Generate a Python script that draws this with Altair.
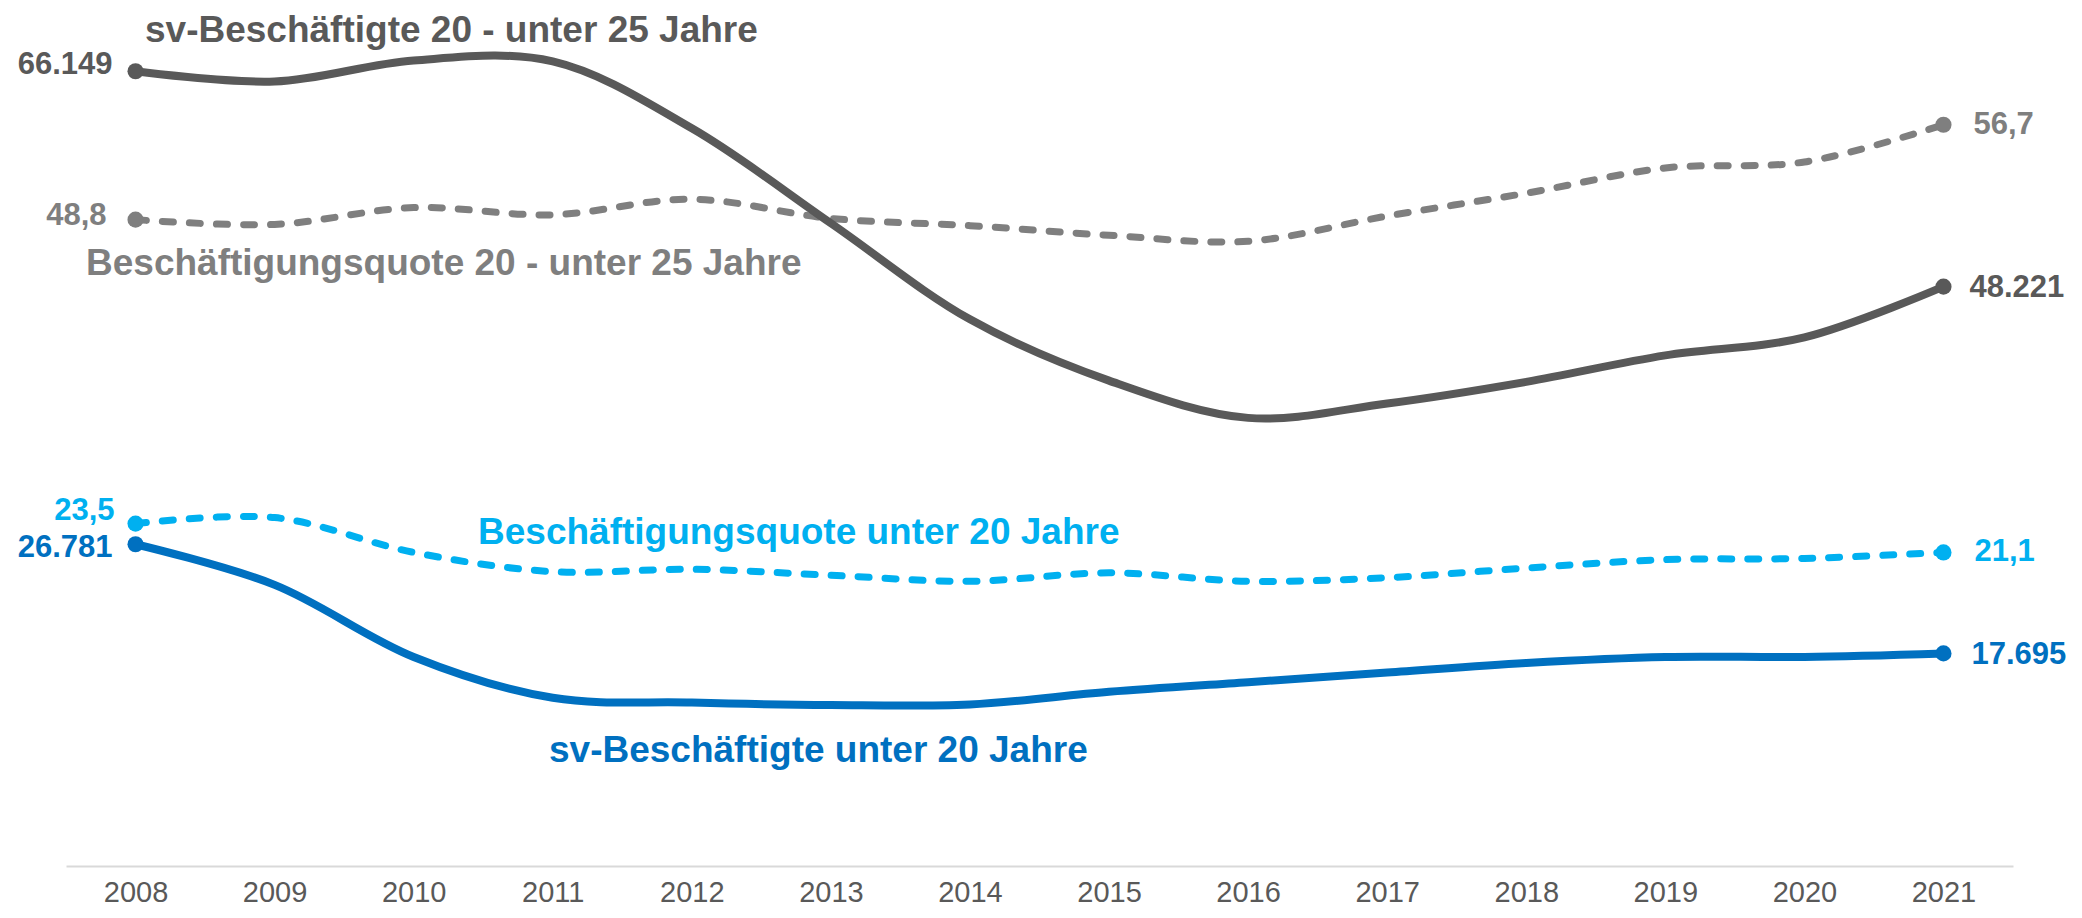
import altair as alt
import pandas as pd

# ---------------- data ----------------
years = list(range(2008, 2022))
sv_20_25 = [66149, 65300, 67050, 66970, 61400, 53500, 45500, 40400, 37300, 38500, 40300, 42500, 44000, 48221]
quote_20_25 = [48.8, 48.4, 49.8, 49.2, 50.5, 48.9, 48.3, 47.5, 47.0, 49.1, 51.0, 53.1, 53.6, 56.7]
quote_u20 = [23.5, 24.0, 21.1, 19.5, 19.7, 19.2, 18.7, 19.4, 18.7, 19.0, 19.8, 20.5, 20.6, 21.1]
sv_u20 = [26781, 23400, 17400, 14000, 13600, 13400, 13450, 14500, 15300, 16100, 16900, 17400, 17400, 17695]

series_names = {
    "sv_20_25": "sv-Beschäftigte 20 - unter 25 Jahre",
    "quote_20_25": "Beschäftigungsquote 20 - unter 25 Jahre",
    "quote_u20": "Beschäftigungsquote unter 20 Jahre",
    "sv_u20": "sv-Beschäftigte unter 20 Jahre",
}

df = pd.DataFrame({
    "year": years,
    "sv_20_25": sv_20_25,
    "quote_20_25": quote_20_25,
    "quote_u20": quote_u20,
    "sv_u20": sv_u20,
})

FONT = "Liberation Sans"
C_DG = "#595959"
C_G = "#7F7F7F"
C_LB = "#00B0F0"
C_B = "#0070C0"


def fmt_count(v):
    return f"{int(v):,}".replace(",", ".")


def fmt_rate(v):
    return f"{v:.1f}".replace(".", ",")


xaxis = alt.Axis(values=years, format="d", grid=False, ticks=False,
                 domainColor="#D9D9D9", domainWidth=2,
                 labelFontSize=29, labelColor=C_DG, labelFont=FONT,
                 labelPadding=12, title=None, labelFlush=False)
X = alt.X("year:Q", scale=alt.Scale(domain=[2007.5, 2021.5], nice=False, zero=False), axis=xaxis)


def y_count(f):
    return alt.Y(f"{f}:Q", scale=alt.Scale(domain=[0, 70000], nice=False, zero=False), axis=None)


def y_rate(f):
    return alt.Y(f"{f}:Q", scale=alt.Scale(domain=[-5, 65], nice=False, zero=False), axis=None)


# field, y-builder, colour, dash, formatter, left (dx, dy), right (dx, dy)
series = [
    ("quote_20_25", y_rate, C_G, [11, 16], fmt_rate, (-29, -4), (30, 0)),
    ("quote_u20", y_rate, C_LB, [11, 16], fmt_rate, (-21, -13), (31, 0)),
    ("sv_20_25", y_count, C_DG, None, fmt_count, (-23, -6), (26, 1)),
    ("sv_u20", y_count, C_B, None, fmt_count, (-23, 4), (28, 2)),
]

layers = []
for field, ybuild, color, dash, fmt, (ldx, ldy), (rdx, rdy) in series:
    line_kwargs = dict(interpolate="catmull-rom", color=color, strokeCap="round")
    if dash:
        line_kwargs.update(strokeDash=dash, strokeWidth=7)
    else:
        line_kwargs.update(strokeWidth=8)
    layers.append(
        alt.Chart(df).mark_line(**line_kwargs).encode(x=X, y=ybuild(field))
    )
    ends = df.iloc[[0, -1]][["year", field]].copy()
    layers.append(
        alt.Chart(ends).mark_circle(size=260, opacity=1, color=color).encode(x=X, y=ybuild(field))
    )
    first = df.iloc[[0]][["year", field]].copy()
    first["label"] = [fmt(v) for v in first[field]]
    last = df.iloc[[-1]][["year", field]].copy()
    last["label"] = [fmt(v) for v in last[field]]
    layers.append(
        alt.Chart(first).mark_text(align="right", baseline="middle", dx=ldx, dy=ldy,
                                   fontSize=31, fontWeight="bold", font=FONT, color=color)
        .encode(x=X, y=ybuild(field), text="label:N")
    )
    layers.append(
        alt.Chart(last).mark_text(align="left", baseline="middle", dx=rdx, dy=rdy,
                                  fontSize=31, fontWeight="bold", font=FONT, color=color)
        .encode(x=X, y=ybuild(field), text="label:N")
    )

# series name annotations (pixel placement inside the plot area)
title_pos = {
    "sv_20_25": (79, 17, C_DG),
    "quote_20_25": (20, 250, C_G),
    "quote_u20": (412, 519, C_LB),
    "sv_u20": (483, 737, C_B),
}
for field, (px, py, color) in title_pos.items():
    tdf = pd.DataFrame({"name": [series_names[field]]})
    layers.append(
        alt.Chart(tdf).mark_text(align="left", baseline="alphabetic", fontSize=37,
                                 fontWeight="bold", font=FONT, color=color)
        .encode(x=alt.value(px), y=alt.value(py), text="name:N")
    )

chart = (
    alt.layer(*layers)
    .resolve_scale(y="independent")
    .properties(
        width=1947,
        height=841,
        autosize=alt.AutoSizeParams(type="none"),
        padding={"left": 58, "top": 17, "right": 54, "bottom": 40},
        background="white",
    )
    .configure_view(stroke=None)
)

chart.save("out.html", embed_options={"renderer": "svg", "actions": False})
